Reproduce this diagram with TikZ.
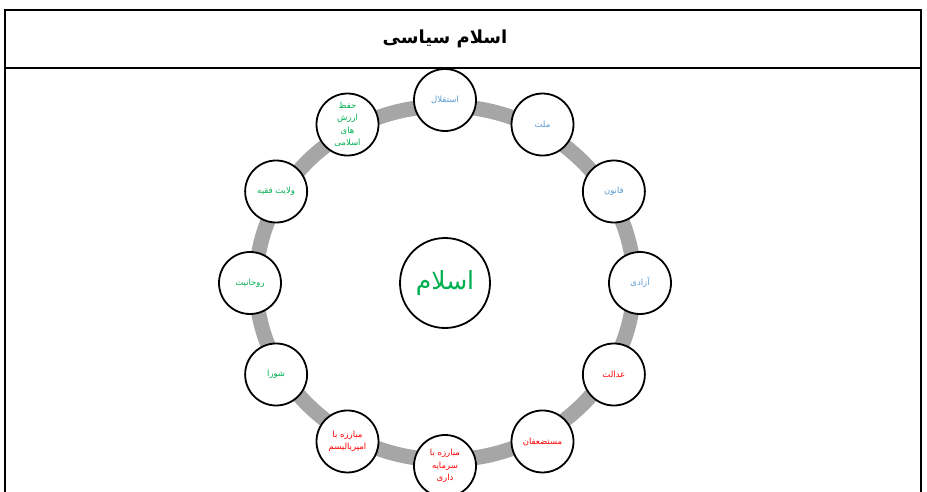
\documentclass[tikz,border=0pt]{standalone}
\usepackage{fontspec}
\newfontfamily\arabicfont[Script=Arabic]{DejaVu Sans}
\TeXXeTstate=1
\newcommand\rtl[1]{\beginR #1\endR}
\definecolor{cblue}{HTML}{5B9BD5}
\definecolor{cgreen}{HTML}{00B050}
\definecolor{cred}{HTML}{FF0000}
\definecolor{bandgray}{HTML}{A6A6A6}
\begin{document}
\begin{tikzpicture}[x=1pt,y=-1pt,
  item/.style={circle, draw=black, line width=1.8pt, fill=white, minimum size=62pt,
    inner sep=0pt, align=center, font=\arabicfont\fontsize{8.5}{12.5}\selectfont},
  hub/.style={circle, draw=black, line width=1.8pt, fill=white, minimum size=90pt,
    inner sep=0pt, text=cgreen, font=\arabicfont\fontsize{25}{27}\selectfont},
  frame/.style={line width=2pt, draw=black}]
\useasboundingbox[fill=white] (0,0) rectangle (927,492);
% table frame
\draw[frame] (5,492) -- (5,10) -- (921,10) -- (921,492);
\draw[frame] (5,68) -- (921,68);
\node[font=\arabicfont\bfseries\fontsize{18}{20}\selectfont] (title) at (445,39) {\rtl{اسلام سیاسی}};
% ring
\draw[bandgray, line width=15pt] (445,283) ellipse [x radius=189, y radius=177];
% hub
\node[hub] (islam) at (445,283) {\rtl{اسلام}};
% items
\node[item, text=cblue] (n1) at ({445+195*cos(90)},{283-183*sin(90)}) {\rtl{استقلال}};
\node[item, text=cblue] (n2) at ({445+195*cos(60)},{283-183*sin(60)}) {\rtl{ملت}};
\node[item, text=cblue] (n3) at ({445+195*cos(30)},{283-183*sin(30)}) {\rtl{قانون}};
\node[item, text=cblue] (n4) at ({445+195*cos(0)},{283-183*sin(0)}) {\rtl{آزادی}};
\node[item, text=cred] (n5) at ({445+195*cos(-30)},{283-183*sin(-30)}) {\rtl{عدالت}};
\node[item, text=cred] (n6) at ({445+195*cos(-60)},{283-183*sin(-60)}) {\rtl{مستضعفان}};
\node[item, text=cred] (n7) at ({445+195*cos(-90)},{283-183*sin(-90)}) {\rtl{مبارزه با}\\\rtl{سرمایه}\\\rtl{داری}};
\node[item, text=cred] (n8) at ({445+195*cos(-120)},{283-183*sin(-120)}) {\rtl{مبارزه با}\\\rtl{امپریالیسم}};
\node[item, text=cgreen] (n9) at ({445+195*cos(-150)},{283-183*sin(-150)}) {\rtl{شورا}};
\node[item, text=cgreen] (n10) at ({445+195*cos(180)},{283-183*sin(180)}) {\rtl{روحانیت}};
\node[item, text=cgreen] (n11) at ({445+195*cos(150)},{283-183*sin(150)}) {\rtl{ولایت فقیه}};
\node[item, text=cgreen] (n12) at ({445+195*cos(120)},{283-183*sin(120)}) {\rtl{حفظ}\\\rtl{ارزش}\\\rtl{های}\\\rtl{اسلامی}};
\end{tikzpicture}
\end{document}
